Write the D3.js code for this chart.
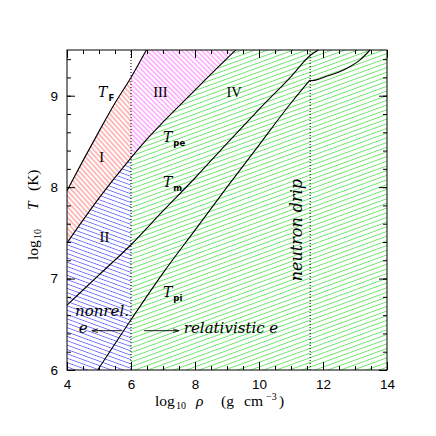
<!DOCTYPE html>
<html>
<head>
<meta charset="utf-8">
<script src="https://cdn.jsdelivr.net/npm/d3@7"></script>
<style>
  body { margin: 0; background: #fff; }
</style>
</head>
<body>
<div id="chart"></div>
<script>
// curves, as [log rho, log T]
const tFermi = [[4, 7.96], [4.5, 8.29], [5, 8.61], [5.5, 8.92], [6, 9.2], [6.48, 9.5]];
const tPlasmaE = [[4, 7.39], [5, 7.88], [6, 8.32], [6.59, 8.56], [7, 8.71], [8, 9.06], [8.31, 9.17], [9.27, 9.5]];
const tMelt = [[4, 6.71], [5, 7.04], [6, 7.37], [7, 7.74], [8, 8.1], [9, 8.48], [10, 8.85], [11, 9.21], [11.6, 9.44], [11.85, 9.5]];
const tPlasmaI = [[4.96, 6.0], [6, 6.55], [7, 7.06], [8, 7.53], [9, 8.0], [10, 8.46], [11, 8.92], [11.59, 9.17]];
const tPlasmaIdrip = [[11.59, 9.17], [11.66, 9.165], [12.13, 9.215], [12.5, 9.26], [12.85, 9.32], [13.15, 9.39], [13.47, 9.5]];
const rhoRel = 6;       // nonrelativistic / relativistic electrons
const rhoDrip = 11.6;   // neutron drip
const xTicks = [4, 6, 8, 10, 12, 14];
const yTicks = [6, 7, 8, 9];

const w = 436, h = 436;
const m = {top: 50, right: 49, bottom: 66, left: 67};

const svg = d3.select("#chart").append("svg")
    .attr("width", w)
    .attr("height", h);

const x = d3.scaleLinear().domain([4, 14]).range([m.left, w - m.right]);
const y = d3.scaleLinear().domain([6, 9.5]).range([h - m.bottom, m.top]);

const line = d3.line().x(d => x(d[0])).y(d => y(d[1]));
const curve = d3.line().x(d => x(d[0])).y(d => y(d[1])).curve(d3.curveMonotoneX);

// hatch patterns
const defs = svg.append("defs");
function hatch(id, color, angle, gap) {
    const p = defs.append("pattern")
        .attr("id", id)
        .attr("patternUnits", "userSpaceOnUse")
        .attr("width", 10)
        .attr("height", gap)
        .attr("patternTransform", `rotate(${angle})`);
    p.append("line")
        .attr("x1", 0).attr("x2", 10)
        .attr("y1", gap / 2).attr("y2", gap / 2)
        .attr("stroke", color)
        .attr("stroke-width", 0.75);
}
hatch("hRed", "#ff4a4a", 48, 3.6);
hatch("hMag", "#ff40ff", 45, 3.5);
hatch("hBlue", "#4a4aff", 20, 4.1);
hatch("hGreen", "#44dd44", -20, 4.4);

const le = (arr, v) => arr.filter(d => d[0] <= v);
const ge = (arr, v) => arr.filter(d => d[0] >= v);

// regions I - IV
const regions = [
    {fill: "url(#hRed)", pts: le(tFermi, rhoRel).concat(le(tPlasmaE, rhoRel).reverse())},
    {fill: "url(#hBlue)", pts: [[4, 6], [rhoRel, 6]].concat(le(tPlasmaE, rhoRel).reverse())},
    {fill: "url(#hMag)", pts: ge(tFermi, rhoRel).concat(ge(tPlasmaE, rhoRel).reverse())},
    {fill: "url(#hGreen)", pts: [[rhoRel, 6], [14, 6], [14, 9.5]].concat(ge(tPlasmaE, rhoRel).reverse())}
];

svg.append("g")
    .selectAll("path")
    .data(regions)
    .enter()
    .append("path")
    .attr("d", d => line(d.pts) + "Z")
    .attr("fill", d => d.fill)
    .attr("stroke", "none");

// dotted verticals
svg.append("g")
    .selectAll("line")
    .data([rhoRel, rhoDrip])
    .enter()
    .append("line")
    .attr("x1", d => x(d)).attr("x2", d => x(d))
    .attr("y1", y(6)).attr("y2", y(9.5))
    .attr("stroke", "#000")
    .attr("stroke-width", 1)
    .attr("stroke-dasharray", "1,2");

// curves
svg.append("g")
    .selectAll("path")
    .data([tFermi, tPlasmaE, tMelt, tPlasmaI, tPlasmaIdrip])
    .enter()
    .append("path")
    .attr("d", curve)
    .attr("fill", "none")
    .attr("stroke", "#000")
    .attr("stroke-width", 1.1);

// axes, ticks inside on all four sides
const xMinor = d3.range(4, 14.01, 0.5);
const yMinor = d3.range(6, 9.51, 0.2);

function ticks(axis, vals, size, labels) {
    return axis.tickValues(vals).tickSizeInner(-size).tickSizeOuter(0)
        .tickPadding(labels ? 9 : 0)
        .tickFormat(labels ? d3.format("d") : "");
}

const axes = [
    [() => d3.axisBottom(x), `translate(0,${y(6)})`, xMinor, xTicks],
    [() => d3.axisTop(x), `translate(0,${y(9.5)})`, xMinor, xTicks],
    [() => d3.axisLeft(y), `translate(${x(4)},0)`, yMinor, yTicks],
    [() => d3.axisRight(y), `translate(${x(14)},0)`, yMinor, yTicks]
];
axes.forEach(([mk, tr, minor, major], i) => {
    const labels = i === 0 || i === 2;
    svg.append("g").attr("transform", tr).call(ticks(mk(), minor, 4, false))
        .call(g => g.select(".domain").remove());
    const g = svg.append("g").attr("transform", tr)
        .call(ticks(mk(), major, 8, labels))
        .call(g => g.select(".domain").remove());
    g.selectAll("text")
        .attr("font-family", "Liberation Sans, sans-serif")
        .attr("font-size", 13.5)
        .attr("fill", "#000");
});
svg.selectAll(".tick line").attr("stroke", "#000");

svg.append("rect")
    .attr("x", x(4)).attr("y", y(9.5))
    .attr("width", x(14) - x(4)).attr("height", y(6) - y(9.5))
    .attr("fill", "none")
    .attr("stroke", "#000")
    .attr("stroke-width", 1);

// axis titles
const serif = "Liberation Serif, serif";
const xt = svg.append("text")
    .attr("font-family", serif).attr("font-size", 15.5)
    .attr("y", 406);
xt.append("tspan").attr("x", 155).text("log");
xt.append("tspan").attr("x", 176).attr("dy", 3).attr("font-size", 10).text("10");
xt.append("tspan").attr("x", 196).attr("dy", -3).attr("font-style", "italic").text("ρ");
xt.append("tspan").attr("x", 221).text("(g");
xt.append("tspan").attr("x", 244).text("cm");
xt.append("tspan").attr("x", 266).attr("dy", -6).attr("font-size", 10).text("−3");
xt.append("tspan").attr("x", 279).attr("dy", 6).text(")");

const yt = svg.append("text")
    .attr("font-family", serif).attr("font-size", 15.5)
    .attr("transform", "rotate(-90)")
    .attr("y", 38);
yt.append("tspan").attr("x", -260).text("log");
yt.append("tspan").attr("x", -239).attr("dy", 3).attr("font-size", 10).text("10");
yt.append("tspan").attr("x", -210).attr("dy", -3).attr("font-style", "italic").text("T");
yt.append("tspan").attr("x", -191).text("(K)");

// region numerals
const numerals = [["I", 5.08, 8.27], ["II", 5.17, 7.4], ["III", 6.92, 8.99], ["IV", 9.22, 8.99]];
svg.append("g")
    .selectAll("text")
    .data(numerals)
    .enter()
    .append("text")
    .attr("x", d => x(d[1])).attr("y", d => y(d[2]))
    .attr("text-anchor", "middle")
    .attr("font-family", serif)
    .attr("font-size", 14.5)
    .text(d => d[0]);

// temperature labels
const tLabels = [["F", 4.97, 8.99], ["pe", 7.0, 8.49], ["m", 7.0, 8.0], ["pi", 7.0, 6.8]];
const tl = svg.append("g")
    .selectAll("text")
    .data(tLabels)
    .enter()
    .append("text")
    .attr("x", d => x(d[1])).attr("y", d => y(d[2]))
    .attr("font-family", "DejaVu Serif, serif")
    .attr("font-style", "italic")
    .attr("font-size", 14);
tl.append("tspan").text("T");
tl.append("tspan")
    .attr("dx", 1).attr("dy", 4)
    .attr("font-family", "DejaVu Sans, sans-serif")
    .attr("font-style", "normal")
    .attr("font-weight", "bold")
    .attr("font-size", 8.5)
    .text(d => d[0]);

// annotations
const ital = "DejaVu Serif, serif";
function note(txt, xv, yv, anchor) {
    return svg.append("text")
        .attr("x", x(xv)).attr("y", y(yv))
        .attr("text-anchor", anchor || "start")
        .attr("font-family", ital)
        .attr("font-style", "italic")
        .attr("font-size", 15)
        .text(txt);
}
note("nonrel.", 4.25, 6.59);
note("e", 4.37, 6.4);
note("relativistic e", 7.65, 6.4);
note("neutron drip", 11.34, 7.53, "middle")
    .attr("font-size", 16)
    .attr("transform", `rotate(-90,${x(11.34)},${y(7.53)})`);

defs.append("marker")
    .attr("id", "head")
    .attr("viewBox", "0 0 10 10")
    .attr("refX", 10).attr("refY", 5)
    .attr("markerWidth", 7).attr("markerHeight", 7)
    .attr("orient", "auto")
    .append("path")
    .attr("d", "M0,2L10,5L0,8")
    .attr("fill", "none")
    .attr("stroke", "#000")
    .attr("stroke-width", 1.2);

const arrows = [[5.71, 4.77, 6.43], [6.41, 7.5, 6.43]];
svg.append("g")
    .selectAll("line")
    .data(arrows)
    .enter()
    .append("line")
    .attr("x1", d => x(d[0])).attr("x2", d => x(d[1]))
    .attr("y1", d => y(d[2])).attr("y2", d => y(d[2]))
    .attr("stroke", "#000")
    .attr("stroke-width", 0.9)
    .attr("marker-end", "url(#head)");
</script>
</body>
</html>
